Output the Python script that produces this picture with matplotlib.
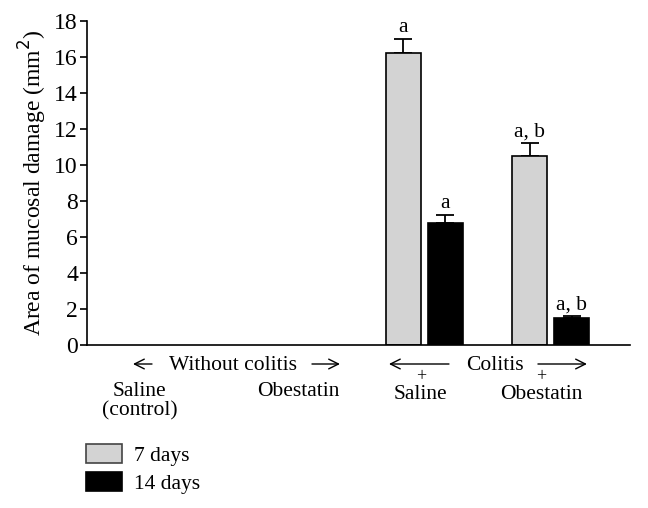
import numpy as np
import matplotlib
matplotlib.use("Agg")
import matplotlib.pyplot as plt
from matplotlib.patches import Patch

plt.rcParams['font.family'] = ['Liberation Serif', 'DejaVu Serif']

groups = ['Saline\n(control)', 'Obestatin', 'Saline', 'Obestatin']
group_x = [0, 1, 2, 3]
label_x = [-0.25, 1.0, 1.97, 2.92]
days7 = [0, 0, 16.2, 10.5]
days7_err = [0, 0, 0.8, 0.7]
days14 = [0, 0, 6.8, 1.5]
days14_err = [0, 0, 0.4, 0.1]
sig7 = ['', '', 'a', 'a, b']
sig14 = ['', '', 'a', 'a, b']

fs = 15.5
fig = plt.figure(figsize=(6.48, 5.08), dpi=100)
ax = fig.add_axes([87/648, 1-345/508, (630-87)/648, 324/508])

x = np.array(group_x, dtype=float)
w = 0.277
off = 0.166
has = np.array(days7) > 0
ax.bar(x[has]-off, np.array(days7)[has], w, color='#d3d3d3', edgecolor='black', linewidth=1.2, zorder=2)
ax.bar(x[has]+off, np.array(days14)[has], w, color='black', edgecolor='black', linewidth=1.2, zorder=2)
ax.errorbar(x[has]-off, np.array(days7)[has], yerr=[np.zeros(has.sum()), np.array(days7_err)[has]],
            fmt='none', ecolor='black', elinewidth=1.3, capsize=6.5, capthick=1.3, zorder=1)
ax.errorbar(x[has]+off, np.array(days14)[has], yerr=[np.zeros(has.sum()), np.array(days14_err)[has]],
            fmt='none', ecolor='black', elinewidth=1.3, capsize=6.5, capthick=1.3, zorder=1)
for i in range(len(x)):
    if sig7[i]:
        ax.annotate(sig7[i], (x[i]-off, days7[i]+days7_err[i]), xytext=(0, 1.5), textcoords='offset points',
                    ha='center', va='bottom', fontsize=fs)
    if sig14[i]:
        ax.annotate(sig14[i], (x[i]+off, days14[i]+days14_err[i]), xytext=(0, 1.5), textcoords='offset points',
                    ha='center', va='bottom', fontsize=fs)

ax.set_xlim(-0.668, 3.625)
ax.set_ylim(0, 18)
ax.set_yticks(np.arange(0, 19, 2))
ax.set_xticks([])
ax.spines['top'].set_visible(False)
ax.spines['right'].set_visible(False)
ax.spines['left'].set_linewidth(1.2)
ax.spines['bottom'].set_linewidth(1.2)
ax.tick_params(axis='y', direction='out', length=5, width=1.2, labelsize=17, pad=1.5)
ax.set_ylabel('Area of mucosal damage (mm$^2$)', fontsize=17, labelpad=4)

# labels under the axis (x in data, y in axes fraction)
tr = ax.get_xaxis_transform()
def py(p):
    return (345 - p) / 324.0
def px(p):
    return (p - 424.5) / 126.5 + 2

ax.text(px(233), py(365), 'Without colitis', transform=tr, ha='center', va='center', fontsize=fs)
ax.text(px(495), py(365), 'Colitis', transform=tr, ha='center', va='center', fontsize=fs)
arrows = [(152, 133), (312, 340), (449, 389), (538, 587)]
for a, b in arrows:
    ax.annotate('', xy=(px(b), py(364)), xytext=(px(a), py(364)), xycoords=tr, textcoords=tr,
                arrowprops=dict(arrowstyle='->,head_length=0.7,head_width=0.35', lw=1.0, color='black',
                                shrinkA=0, shrinkB=0))
for i in range(len(groups)):
    if i >= 2:
        ax.text(label_x[i], py(377), '+', transform=tr, ha='center', va='center', fontsize=13)
        ax.text(label_x[i], py(385), groups[i], transform=tr, ha='center', va='top', fontsize=fs)
    else:
        ax.text(label_x[i], py(382), groups[i], transform=tr, ha='center', va='top', fontsize=fs,
                linespacing=1.0)

handles = [Patch(facecolor='#d3d3d3', edgecolor='#444444', linewidth=1.2, label='7 days'),
           Patch(facecolor='black', edgecolor='black', linewidth=1.2, label='14 days')]
fig.legend(handles=handles, loc='upper left', bbox_to_anchor=(86/648, 1-444/508), frameon=False,
           fontsize=fs, handlelength=1.65, handleheight=0.95, handletextpad=0.6, labelspacing=0.3,
           borderpad=0, borderaxespad=0)

fig.savefig('out.png', dpi=100)
